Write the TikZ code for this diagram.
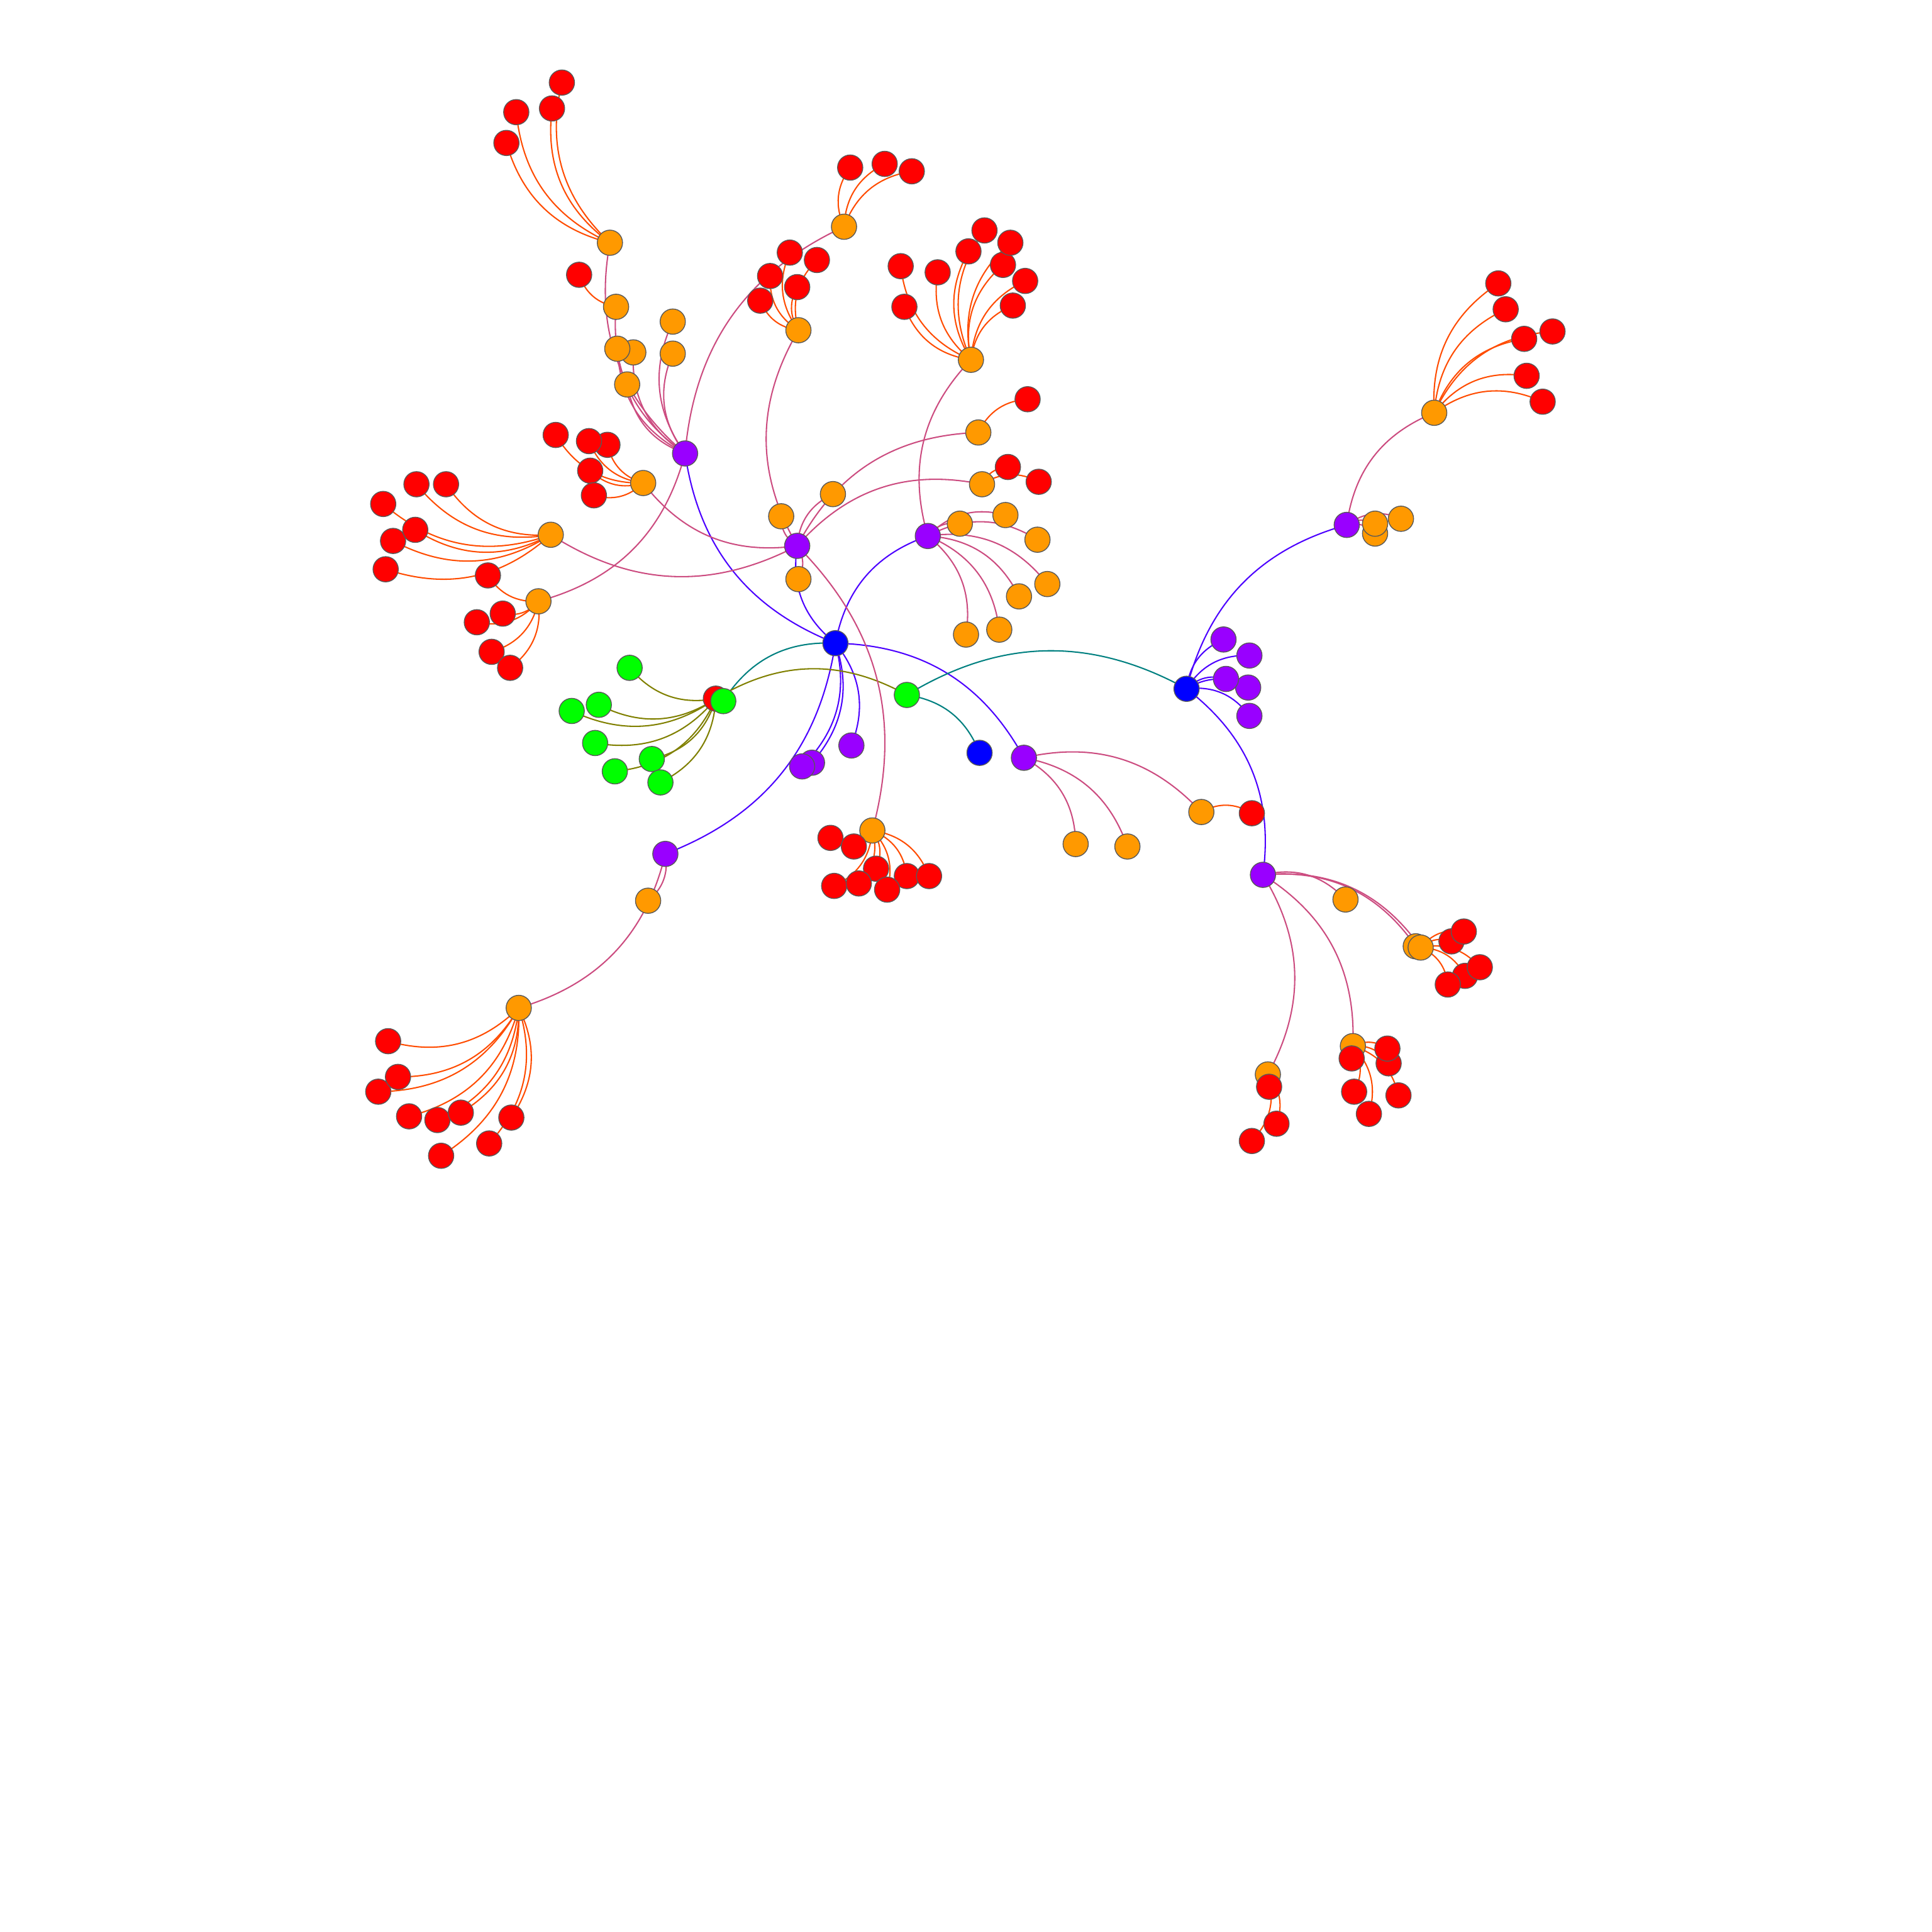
\documentclass[tikz,border=0pt]{standalone}
\usetikzlibrary{backgrounds}
\definecolor{cB}{RGB}{0,0,255}
\definecolor{cP}{RGB}{153,0,255}
\definecolor{cO}{RGB}{255,153,0}
\definecolor{cR}{RGB}{255,0,0}
\definecolor{cG}{RGB}{0,255,0}
\definecolor{kBP}{RGB}{76,0,255}
\definecolor{kPO}{RGB}{204,76,128}
\definecolor{kOR}{RGB}{255,76,0}
\definecolor{kBG}{RGB}{0,128,128}
\definecolor{kRG}{RGB}{128,128,0}
\begin{document}
\begin{tikzpicture}[x=0.1mm,y=-0.1mm,
  nd/.style={circle,draw=black!65,line width=0.2pt,minimum size=2.05mm,inner sep=0pt},
  nB/.style={nd,fill=cB}, nP/.style={nd,fill=cP}, nO/.style={nd,fill=cO},
  nR/.style={nd,fill=cR}, nG/.style={nd,fill=cG},
  eg/.style={line width=0.3pt},
  eBP/.style={eg,draw=kBP}, ePO/.style={eg,draw=kPO}, eOR/.style={eg,draw=kOR},
  eBG/.style={eg,draw=kBG}, eRG/.style={eg,draw=kRG}]
\useasboundingbox (0,0) rectangle (1568,1568);
% red behind green
\node[nR] (R0) at (581,567) {};
% greens
\node[nG] (g1) at (511,542) {};
\node[nG] (g2) at (464,577) {};
\node[nG] (g3) at (486,572) {};
\node[nG] (g4) at (483,603) {};
\node[nG] (g5) at (499,626) {};
\node[nG] (g6) at (529,616) {};
\node[nG] (g7) at (536,635) {};
\node[nG] (G1) at (587,569) {};
\node[nG] (G2) at (736,564) {};
% blues
\node[nB] (B0) at (678,522) {};
\node[nB] (B1) at (963,559) {};
\node[nB] (B2) at (795,611) {};
% purples
\node[nP] (P1) at (556,368) {};
\node[nP] (P2) at (647,443) {};
\node[nP] (P3) at (753,435) {};
\node[nP] (P4) at (831,615) {};
\node[nP] (P5) at (540,693) {};
\node[nP] (P6) at (1093,426) {};
\node[nP] (P7) at (1025,710) {};
\node[nP] (pb) at (659,619) {};
\node[nP] (pa) at (651,622) {};
\node[nP] (pc) at (691,605) {};
\node[nP] (pd) at (993,519) {};
\node[nP] (pe) at (1014,532) {};
\node[nP] (pg) at (1013,558) {};
\node[nP] (pf) at (995,551) {};
\node[nP] (ph) at (1014,581) {};
% oranges
\node[nO] (o1) at (495,197) {};
\node[nO] (o2) at (500,249) {};
\node[nO] (o3) at (546,261) {};
\node[nO] (o4) at (546,287) {};
\node[nO] (o6) at (514,286) {};
\node[nO] (o5) at (501,283) {};
\node[nO] (o7) at (509,312) {};
\node[nO] (o8) at (685,184) {};
\node[nO] (o9) at (437,488) {};
\node[nO] (o10) at (648,268) {};
\node[nO] (o11) at (634,419) {};
\node[nO] (o12) at (648,470) {};
\node[nO] (o13) at (676,401) {};
\node[nO] (o14) at (794,351) {};
\node[nO] (o15) at (797,393) {};
\node[nO] (o16) at (522,392) {};
\node[nO] (o17) at (447,434) {};
\node[nO] (o18) at (708,674) {};
\node[nO] (o19) at (779,425) {};
\node[nO] (o20) at (816,418) {};
\node[nO] (o21) at (842,438) {};
\node[nO] (o22) at (850,474) {};
\node[nO] (o23) at (827,484) {};
\node[nO] (o24) at (811,511) {};
\node[nO] (o25) at (784,515) {};
\node[nO] (o26) at (788,292) {};
\node[nO] (o27) at (975,659) {};
\node[nO] (o28) at (873,685) {};
\node[nO] (o29) at (915,687) {};
\node[nO] (o30) at (526,731) {};
\node[nO] (o31) at (421,818) {};
\node[nO] (o33) at (1116,433) {};
\node[nO] (o32) at (1116,425) {};
\node[nO] (o34) at (1137,421) {};
\node[nO] (o35) at (1164,335) {};
\node[nO] (o36) at (1092,730) {};
\node[nO] (o37) at (1149,768) {};
\node[nO] (o38) at (1153,769) {};
\node[nO] (o39) at (1098,849) {};
\node[nO] (o40) at (1029,872) {};
% reds
\node[nR] (r1a) at (456,67) {};
\node[nR] (r1b) at (448,88) {};
\node[nR] (r1c) at (419,91) {};
\node[nR] (r1d) at (411,116) {};
\node[nR] (r2a) at (470,223) {};
\node[nR] (r8a) at (690,136) {};
\node[nR] (r8b) at (718,133) {};
\node[nR] (r8c) at (740,139) {};
\node[nR] (r10a) at (641,205) {};
\node[nR] (r10b) at (663,211) {};
\node[nR] (r10c) at (625,224) {};
\node[nR] (r10d) at (647,233) {};
\node[nR] (r10e) at (617,244) {};
\node[nR] (r26a) at (731,216) {};
\node[nR] (r26b) at (761,221) {};
\node[nR] (r26c) at (786,204) {};
\node[nR] (r26d) at (799,187) {};
\node[nR] (r26e) at (814,215) {};
\node[nR] (r26f) at (820,197) {};
\node[nR] (r26g) at (832,228) {};
\node[nR] (r26h) at (822,248) {};
\node[nR] (r26i) at (734,249) {};
\node[nR] (r14a) at (834,324) {};
\node[nR] (r15a) at (818,379) {};
\node[nR] (r15b) at (843,391) {};
\node[nR] (r16a) at (451,353) {};
\node[nR] (r16b) at (493,361) {};
\node[nR] (r16c) at (478,358) {};
\node[nR] (r16d) at (479,382) {};
\node[nR] (r16e) at (482,402) {};
\node[nR] (r17a) at (338,393) {};
\node[nR] (r17b) at (362,393) {};
\node[nR] (r17c) at (311,409) {};
\node[nR] (r17d) at (319,439) {};
\node[nR] (r17e) at (337,430) {};
\node[nR] (r17f) at (313,462) {};
\node[nR] (r9a) at (396,467) {};
\node[nR] (r9b) at (387,505) {};
\node[nR] (r9c) at (408,498) {};
\node[nR] (r9d) at (399,529) {};
\node[nR] (r9e) at (414,542) {};
\node[nR] (r18a) at (674,680) {};
\node[nR] (r18b) at (693,687) {};
\node[nR] (r18c) at (711,705) {};
\node[nR] (r18d) at (736,711) {};
\node[nR] (r18e) at (754,711) {};
\node[nR] (r18f) at (677,719) {};
\node[nR] (r18g) at (697,717) {};
\node[nR] (r18h) at (720,722) {};
\node[nR] (r27a) at (1016,660) {};
\node[nR] (r31a) at (315,845) {};
\node[nR] (r31b) at (307,886) {};
\node[nR] (r31c) at (323,874) {};
\node[nR] (r31d) at (332,906) {};
\node[nR] (r31e) at (355,909) {};
\node[nR] (r31f) at (374,903) {};
\node[nR] (r31g) at (415,907) {};
\node[nR] (r31h) at (397,928) {};
\node[nR] (r31i) at (358,938) {};
\node[nR] (r35a) at (1216,230) {};
\node[nR] (r35b) at (1222,251) {};
\node[nR] (r35c) at (1260,269) {};
\node[nR] (r35d) at (1237,275) {};
\node[nR] (r35e) at (1239,305) {};
\node[nR] (r35f) at (1252,326) {};
\node[nR] (r38a) at (1178,764) {};
\node[nR] (r38b) at (1188,756) {};
\node[nR] (r38c) at (1189,792) {};
\node[nR] (r38d) at (1201,785) {};
\node[nR] (r38e) at (1175,799) {};
\node[nR] (r39a) at (1127,863) {};
\node[nR] (r39b) at (1126,851) {};
\node[nR] (r39c) at (1099,886) {};
\node[nR] (r39d) at (1135,889) {};
\node[nR] (r39e) at (1111,904) {};
\node[nR] (r39f) at (1097,859) {};
\node[nR] (r40a) at (1036,912) {};
\node[nR] (r40b) at (1016,926) {};
\node[nR] (r40c) at (1030,882) {};
\begin{pgfonlayer}{background}
\fill[white] (0,0) rectangle (1568,1568);
\foreach \a/\b in {B0/P1,B0/P2,B0/P3,B0/P4,B0/P5,B0/pa,B0/pb,B0/pc,B1/P6,B1/P7,B1/pd,B1/pe,B1/pf,B1/pg,B1/ph}
  \draw[eBP] (\a.center) to[bend left=30] (\b.center);
\foreach \a/\b in {G1/B0,G2/B1,G2/B2}
  \draw[eBG] (\a.center) to[bend left=30] (\b.center);
\foreach \b in {G2,g1,g2,g3,g4,g5,g6,g7}
  \draw[eRG] (R0.center) to[bend left=30] (\b.center);
\foreach \a/\b in {P1/o1,P1/o2,P1/o3,P1/o4,P1/o5,P1/o6,P1/o7,P1/o8,P1/o9,
  P2/o10,P2/o11,P2/o12,P2/o13,P2/o14,P2/o15,P2/o16,P2/o17,P2/o18,
  P3/o19,P3/o20,P3/o21,P3/o22,P3/o23,P3/o24,P3/o25,P3/o26,
  P4/o27,P4/o28,P4/o29,P5/o30,P5/o31,P6/o32,P6/o33,P6/o34,P6/o35,
  P7/o36,P7/o37,P7/o38,P7/o39,P7/o40}
  \draw[ePO] (\a.center) to[bend left=30] (\b.center);
\foreach \a/\b in {o1/r1a,o1/r1b,o1/r1c,o1/r1d,o2/r2a,o8/r8a,o8/r8b,o8/r8c,
  o10/r10a,o10/r10b,o10/r10c,o10/r10d,o10/r10e,
  o26/r26a,o26/r26b,o26/r26c,o26/r26d,o26/r26e,o26/r26f,o26/r26g,o26/r26h,o26/r26i,
  o14/r14a,o15/r15a,o15/r15b,
  o16/r16a,o16/r16b,o16/r16c,o16/r16d,o16/r16e,
  o17/r17a,o17/r17b,o17/r17c,o17/r17d,o17/r17e,o17/r17f,
  o9/r9a,o9/r9b,o9/r9c,o9/r9d,o9/r9e,
  o18/r18a,o18/r18b,o18/r18c,o18/r18d,o18/r18e,o18/r18f,o18/r18g,o18/r18h,
  o27/r27a,
  o31/r31a,o31/r31b,o31/r31c,o31/r31d,o31/r31e,o31/r31f,o31/r31g,o31/r31h,o31/r31i,
  o35/r35a,o35/r35b,o35/r35c,o35/r35d,o35/r35e,o35/r35f,
  o38/r38a,o38/r38b,o38/r38c,o38/r38d,o38/r38e,
  o39/r39a,o39/r39b,o39/r39c,o39/r39d,o39/r39e,o39/r39f,
  o40/r40a,o40/r40b,o40/r40c}
  \draw[eOR] (\a.center) to[bend left=30] (\b.center);
\end{pgfonlayer}
\end{tikzpicture}
\end{document}
